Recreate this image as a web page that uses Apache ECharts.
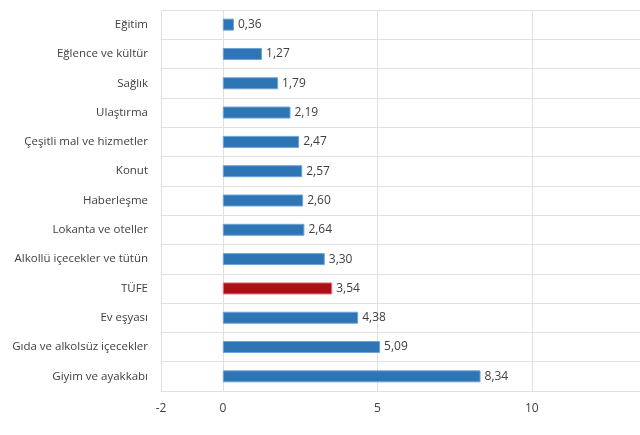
<!DOCTYPE html>
<html>
<head>
<meta charset="utf-8">
<script src="https://cdn.jsdelivr.net/npm/echarts@6/dist/echarts.min.js"></script>
<style>
html,body{margin:0;padding:0;background:#fff;}
#chart{width:640px;height:435px;}
</style>
</head>
<body>
<div id="chart"></div>
<script>
const categories = [
  'Eğitim',
  'Eğlence ve kültür',
  'Sağlık',
  'Ulaştırma',
  'Çeşitli mal ve hizmetler',
  'Konut',
  'Haberleşme',
  'Lokanta ve oteller',
  'Alkollü içecekler ve tütün',
  'TÜFE',
  'Ev eşyası',
  'Gıda ve alkolsüz içecekler',
  'Giyim ve ayakkabı'
];
const values = [0.36, 1.27, 1.79, 2.19, 2.47, 2.57, 2.60, 2.64, 3.30, 3.54, 4.38, 5.09, 8.34];
const xTicks = [-2, 0, 5, 10];
const highlight = 'TÜFE';

const BLUE = '#2e75b6', BLUE_B = '#6fa3d6';
const RED = '#ad0f17', RED_B = '#d9707a';
const GRID = '#e0e0e0';
const TXT = '#404040';
const FONT = '"Open Sans", "Noto Sans", sans-serif';

const chart = echarts.init(document.getElementById('chart'), null, {renderer: 'canvas'});
chart.setOption({
  animation: false,
  backgroundColor: '#fff',
  grid: {left: 161, right: 0, top: 10, bottom: 44, containLabel: false},
  xAxis: {
    type: 'value',
    min: -2,
    max: 13.5,
    axisLine: {show: false},
    axisTick: {show: false, customValues: xTicks},
    axisLabel: {customValues: xTicks, color: TXT, fontSize: 12, fontFamily: FONT, margin: 12},
    splitLine: {show: true, lineStyle: {color: GRID, width: 1}}
  },
  yAxis: {
    type: 'category',
    data: categories,
    inverse: true,
    axisLine: {show: false},
    axisTick: {show: true, length: 9, lineStyle: {color: GRID}},
    axisLabel: {color: TXT, fontSize: 11.5, fontFamily: FONT, margin: 13},
    splitLine: {show: true, lineStyle: {color: GRID, width: 1}}
  },
  series: [{
    type: 'bar',
    barWidth: 12,
    data: values.map((v, i) => ({
      value: v,
      itemStyle: categories[i] === highlight
        ? {color: RED, borderColor: RED_B, borderWidth: 1}
        : {color: BLUE, borderColor: BLUE_B, borderWidth: 1}
    })),
    label: {
      show: true,
      position: 'right',
      distance: 4,
      color: TXT,
      fontSize: 12,
      fontFamily: FONT,
      formatter: p => p.value.toFixed(2).replace('.', ',')
    }
  }]
});
</script>
</body>
</html>
